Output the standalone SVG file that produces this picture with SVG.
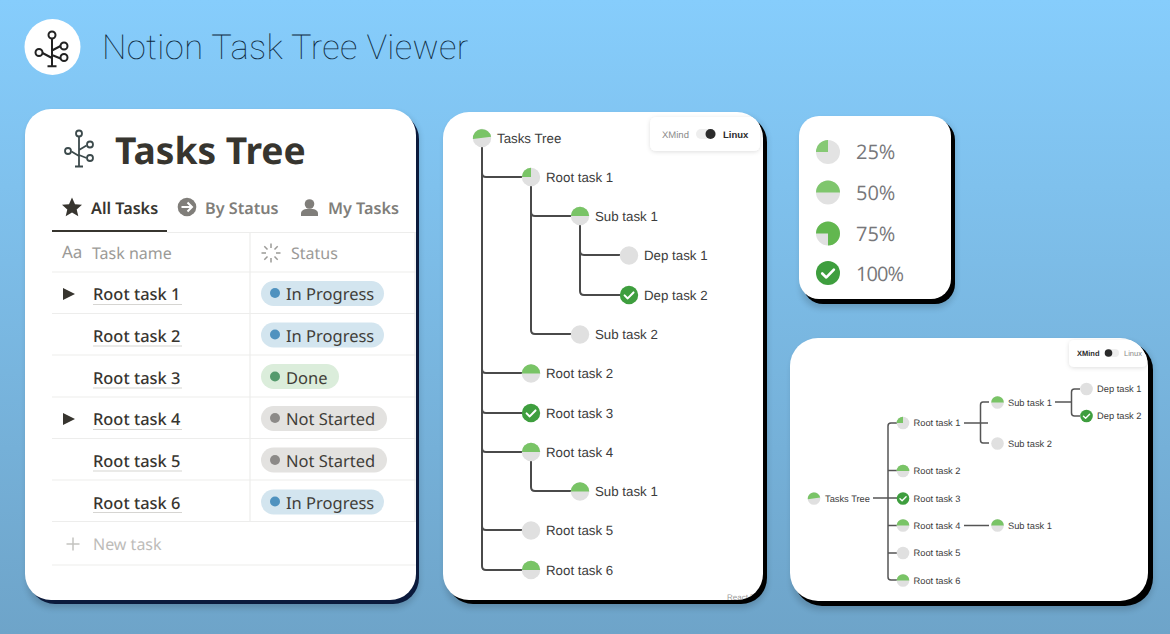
<svg xmlns="http://www.w3.org/2000/svg" width="1170" height="634" viewBox="0 0 1170 634">
<style>
.card{fill:#fff}
.sh1{fill:#0b1a3c}
.sh2{fill:#000}
.rule{stroke:#ededec;stroke-width:1.2;fill:none}
.nt{font-family:"Noto Sans","Open Sans",sans-serif;text-rendering:geometricPrecision}
.tab{font-size:16.200px;font-weight:600;fill:#807e7a}
.hd{font-size:16px;fill:#9b9a97}
.rw{font-size:16.400px;font-weight:500;fill:#37352f}
.rl{stroke:#d6d5d2;stroke-width:1.2}
.st{font-size:16.500px;fill:#3f3d38}
.tr{font-family:"Liberation Sans",Arial,sans-serif;fill:#3c3c3c;text-rendering:geometricPrecision}
.t2{font-size:13.300px}
.t4{font-size:9.300px}
.cn{fill:none;stroke:#4a4a4a;stroke-width:2}
.cn4{fill:none;stroke:#555;stroke-width:1.5}
.lg{font-family:"Open Sans","Noto Sans",sans-serif;font-size:20px;fill:#77777a;text-rendering:geometricPrecision}
.ic{fill:none;stroke:#222;stroke-width:2}
.ic2{fill:none;stroke:#3c4a4c;stroke-width:1.800}
.gr{fill:#e0e0e0}
.gn{fill:#79c466}
.dn{fill:#3e9e3e}
.glow{fill:#000;opacity:.16}
</style>
<defs>
<linearGradient id="bg" x1="0" y1="0" x2="0" y2="1"><stop offset="0" stop-color="#86cdfc"/><stop offset="1" stop-color="#6ea4c9"/></linearGradient>
<filter id="soft" x="-20%" y="-20%" width="140%" height="150%"><feDropShadow dx="0" dy="1" stdDeviation="2" flood-color="#000" flood-opacity="0.13"/></filter>
<filter id="blur" x="-10%" y="-10%" width="120%" height="120%"><feGaussianBlur stdDeviation="3"/></filter>
<clipPath id="clip2"><rect x="443" y="112" width="320" height="488" rx="26"/></clipPath>
<clipPath id="clip4"><rect x="790" y="338" width="358" height="263" rx="28"/></clipPath>
<g id="p0"><circle r="10" class="gr"/></g>
<g id="p25"><circle r="10" class="gr"/><path d="M0 0V-10A10 10 0 0 0-10 0Z" class="gn"/></g>
<g id="p50"><circle r="10" class="gr"/><path d="M-10 0A10 10 0 0 1 10 0Z" class="gn"/></g>
<g id="p55"><circle r="10" class="gr"/><path d="M-9.900 1.200A10 10 0 0 1 9.900-1.400Z" class="gn"/></g>
<g id="p75"><circle r="10" class="gr"/><path d="M0 0H-10A10 10 0 1 1 0 10Z" fill="#62b74f"/></g>
<g id="p100"><circle r="10" class="dn"/><path d="M-4.800 0.400L-1.400 3.700L4.900-2.800" fill="none" stroke="#fff" stroke-width="2.200" stroke-linecap="round" stroke-linejoin="round"/></g>
</defs>
<rect width="1170" height="634" fill="url(#bg)"/>

<g id="header">
<circle cx="52.500" cy="47" r="28" fill="#fff"/>
<g class="ic">
<path d="M52 38.500V66M47.500 66.200H56.500M52 50.500L60.500 46M52 55L60.500 58.500M42.500 53L52 58"/>
<circle cx="52" cy="35" r="3.500"/><circle cx="64" cy="46" r="3.500"/><circle cx="64" cy="57.500" r="3.500"/><circle cx="39" cy="52.500" r="3.500"/>
</g>
<text x="102" y="59" font-family="Roboto,sans-serif" font-weight="100" font-size="34.500" letter-spacing="0.350" fill="#0f2a40" style="text-rendering:geometricPrecision">Notion Task Tree Viewer</text>
</g>

<g id="card-notion">
<rect x="27" y="113" width="392" height="495" rx="26" class="glow" filter="url(#blur)"/>
<rect x="29" y="113" width="390" height="491" rx="26" class="sh1"/>
<rect x="25" y="109" width="391" height="491" rx="26" class="card"/>
<g class="ic2">
<path d="M79 137V166M75 166.500H83M79 150L86.500 145.500M79 155L86.500 158M71.500 151.500L79 156"/>
<circle cx="79" cy="133.500" r="3"/><circle cx="90" cy="144.500" r="3"/><circle cx="90" cy="158" r="3"/><circle cx="68" cy="151" r="3"/>
</g>
<text x="115" y="164" class="nt" font-size="37.200" font-weight="700" fill="#37352f">Tasks Tree</text>
<path d="M72 197.500L75 204.200L82 204.800L76.700 209.400L78.300 216.300L72 212.600L65.700 216.300L67.300 209.400L62 204.800L69 204.200Z" fill="#37352f"/>
<text x="91" y="214" class="nt tab" style="fill:#37352f">All Tasks</text>
<circle cx="187" cy="207" r="9.300" fill="#807e7a"/>
<path d="M181.500 207H191.500M187.500 202.500L192 207L187.500 211.500" fill="none" stroke="#fff" stroke-width="2"/>
<text x="205" y="214" class="nt tab">By Status</text>
<circle cx="309.500" cy="204" r="4.800" fill="#807e7a"/>
<path d="M301 216V213.500C301 210 305 208.800 309.500 208.800S318 210 318 213.500V216Z" fill="#807e7a"/>
<text x="328" y="214" class="nt tab">My Tasks</text>
<rect x="52" y="230" width="115" height="2" fill="#37352f"/>
<path d="M167 232.500H416M52 272H416M52 313.500H416M52 355H416M52 397H416M52 438.500H416M52 480H416M52 521.500H416M52 565H416M250 233V521M415 233V521" class="rule"/>
<text x="62" y="258" class="nt hd" style="font-size:17px">Aa</text>
<text x="92" y="259" class="nt hd">Task name</text>
<path d="M271 243.500V248M271 258V262.500M261.500 253H266M276 253H280.500M264.300 246.300L267.500 249.500M274.500 256.500L277.700 259.700M264.300 259.700L267.500 256.500M274.500 249.500L277.700 246.300" stroke="#9b9a97" stroke-width="1.500" fill="none"/>
<text x="291" y="259" class="nt hd">Status</text>
<path d="M63 288V300L75 294Z" fill="#37352f"/>
<path d="M63 413V425L75 419Z" fill="#37352f"/>
<g id="row-1"><text x="93" y="300" class="nt rw">Root task 1</text><path d="M93 304.500H182" class="rl"/><rect x="261" y="281" width="123" height="25" rx="12.500" fill="#d3e5ef"/><circle cx="275" cy="293" r="5" fill="#4f92bf"/><text x="286" y="300" class="nt st">In Progress</text></g>
<g id="row-2"><text x="93" y="341.500" class="nt rw">Root task 2</text><path d="M93 346H182" class="rl"/><rect x="261" y="322.500" width="123" height="25" rx="12.500" fill="#d3e5ef"/><circle cx="275" cy="334.500" r="5" fill="#4f92bf"/><text x="286" y="341.500" class="nt st">In Progress</text></g>
<g id="row-3"><text x="93" y="383.500" class="nt rw">Root task 3</text><path d="M93 388H182" class="rl"/><rect x="261" y="364" width="78" height="25" rx="12.500" fill="#dbeddb"/><circle cx="275" cy="376.500" r="5" fill="#559a6d"/><text x="286" y="383.500" class="nt st">Done</text></g>
<g id="row-4"><text x="93" y="425" class="nt rw">Root task 4</text><path d="M93 429.500H182" class="rl"/><rect x="261" y="406" width="126" height="25" rx="12.500" fill="#e3e2e0"/><circle cx="275" cy="418" r="5" fill="#8c8a88"/><text x="286" y="425" class="nt st">Not Started</text></g>
<g id="row-5"><text x="93" y="467" class="nt rw">Root task 5</text><path d="M93 471H182" class="rl"/><rect x="261" y="447.500" width="126" height="25" rx="12.500" fill="#e3e2e0"/><circle cx="275" cy="460" r="5" fill="#8c8a88"/><text x="286" y="467" class="nt st">Not Started</text></g>
<g id="row-6"><text x="93" y="508.500" class="nt rw">Root task 6</text><path d="M93 512.500H182" class="rl"/><rect x="261" y="489.500" width="123" height="25" rx="12.500" fill="#d3e5ef"/><circle cx="275" cy="501.500" r="5" fill="#4f92bf"/><text x="286" y="508.500" class="nt st">In Progress</text></g>
<path d="M73 537.500V550.500M66.500 544H79.500" stroke="#c4c3c0" stroke-width="1.500"/>
<text x="93" y="550" class="nt" font-size="16" fill="#bdbcb9">New task</text>
</g>

<g id="card-linux">
<rect x="445" y="116" width="322" height="492" rx="26" class="glow" filter="url(#blur)"/>
<rect x="447" y="116" width="320" height="488" rx="26" class="sh2"/>
<rect x="443" y="112" width="320" height="488" rx="26" class="card"/>
<g id="connectors-linux" class="cn">
<path d="M482 147V566Q482 570 486 570H522"/>
<path d="M482 173Q482 177 486 177H522M482 369Q482 373 486 373H522M482 409Q482 413 486 413H522M482 448Q482 452 486 452H522M482 526Q482 530 486 530H522"/>
<path d="M531 186V330Q531 334 535 334H571M531 212Q531 216 535 216H571"/>
<path d="M580 225V291Q580 295 584 295H620M580 251Q580 255 584 255H620"/>
<path d="M531 461V487Q531 491 535 491H571"/>
</g>
<g id="n2-root"><use href="#p55" transform="translate(482 138) scale(.92)"/><text x="497" y="143" class="tr t2">Tasks Tree</text></g>
<g id="n2-r1"><use href="#p25" transform="translate(531 177) scale(.92)"/><text x="546" y="182" class="tr t2">Root task 1</text></g>
<g id="n2-s1"><use href="#p50" transform="translate(580 216) scale(.92)"/><text x="595" y="221" class="tr t2">Sub task 1</text></g>
<g id="n2-d1"><use href="#p0" transform="translate(629 255.500) scale(.92)"/><text x="644" y="260" class="tr t2">Dep task 1</text></g>
<g id="n2-d2"><use href="#p100" transform="translate(629 295) scale(.92)"/><text x="644" y="300" class="tr t2">Dep task 2</text></g>
<g id="n2-s2"><use href="#p0" transform="translate(580 334.500) scale(.92)"/><text x="595" y="339" class="tr t2">Sub task 2</text></g>
<g id="n2-r2"><use href="#p50" transform="translate(531 373.500) scale(.92)"/><text x="546" y="378" class="tr t2">Root task 2</text></g>
<g id="n2-r3"><use href="#p100" transform="translate(531 413) scale(.92)"/><text x="546" y="418" class="tr t2">Root task 3</text></g>
<g id="n2-r4"><use href="#p50" transform="translate(531 452) scale(.92)"/><text x="546" y="457" class="tr t2">Root task 4</text></g>
<g id="n2-s3"><use href="#p50" transform="translate(580 491.500) scale(.92)"/><text x="595" y="496" class="tr t2">Sub task 1</text></g>
<g id="n2-r5"><use href="#p0" transform="translate(531 530.500) scale(.92)"/><text x="546" y="535" class="tr t2">Root task 5</text></g>
<g id="n2-r6"><use href="#p50" transform="translate(531 570) scale(.92)"/><text x="546" y="575" class="tr t2">Root task 6</text></g>
<g id="toggle-linux" clip-path="url(#clip2)">
<rect x="650" y="117" width="110" height="34" rx="6" fill="#fff" filter="url(#soft)"/>
<text x="662" y="137.500" class="tr" font-size="9.500" style="fill:#8a8a8a">XMind</text>
<rect x="696" y="129" width="20" height="10" rx="5" fill="#eeeeee"/>
<circle cx="710.500" cy="134" r="5" fill="#2b2b2b"/>
<text x="723" y="137.500" class="tr" font-size="9.500" font-weight="700" style="fill:#2b2b2b">Linux</text>
</g>
<g clip-path="url(#clip2)"><text x="727" y="600" class="tr" font-size="8" style="fill:#9a9a9a">React F</text></g>
</g>

<g id="card-legend">
<rect x="801" y="120" width="154" height="188" rx="20" class="glow" filter="url(#blur)"/>
<rect x="803" y="120" width="152" height="184" rx="20" class="sh2"/>
<rect x="799" y="116" width="152" height="183" rx="20" class="card"/>
<g id="lg-25"><use href="#p25" transform="translate(828 152) scale(1.2)" opacity=".9"/><text x="856" y="159" class="lg">25%</text></g>
<g id="lg-50"><use href="#p50" transform="translate(828 192.500) scale(1.2)" opacity=".95"/><text x="856" y="200" class="lg">50%</text></g>
<g id="lg-75"><use href="#p75" transform="translate(828 233.500) scale(1.2)"/><text x="856" y="241" class="lg">75%</text></g>
<g id="lg-100"><use href="#p100" transform="translate(828 273) scale(1.2)"/><text x="856" y="281" class="lg" letter-spacing="-0.900">100%</text></g>
</g>

<g id="card-xmind">
<rect x="792" y="342" width="361" height="268" rx="28" class="glow" filter="url(#blur)"/>
<rect x="794" y="342" width="359" height="264" rx="28" class="sh2"/>
<rect x="790" y="338" width="358" height="263" rx="28" class="card"/>
<g id="connectors-xmind" class="cn4">
<path d="M873 498H897"/>
<path d="M897 423H891Q888 423 888 426V577Q888 580 891 580H897M888 470.500H897M888 525.500H897M888 553H897"/>
<path d="M964 423H988M989 402H983Q980.500 402 980.500 405V440Q980.500 443 983 443H989"/>
<path d="M1055 402H1071M1080 389H1074.500Q1071.500 389 1071.500 392V413Q1071.500 416 1074.500 416H1080"/>
<path d="M964 525.500H989"/>
</g>
<g id="n4-root"><use href="#p55" transform="translate(814 498.500) scale(.63)"/><text x="825" y="501.500" class="tr t4">Tasks Tree</text></g>
<g id="n4-r1"><use href="#p25" transform="translate(903 423) scale(.63)"/><text x="913.500" y="426" class="tr t4">Root task 1</text></g>
<g id="n4-s1"><use href="#p50" transform="translate(997.500 402.500) scale(.63)"/><text x="1008" y="405.500" class="tr t4">Sub task 1</text></g>
<g id="n4-d1"><use href="#p0" transform="translate(1086.500 389) scale(.63)"/><text x="1097" y="392" class="tr t4">Dep task 1</text></g>
<g id="n4-d2"><use href="#p100" transform="translate(1086.500 416) scale(.63)"/><text x="1097" y="419" class="tr t4">Dep task 2</text></g>
<g id="n4-s2"><use href="#p0" transform="translate(997.500 443.500) scale(.63)"/><text x="1008" y="446.500" class="tr t4">Sub task 2</text></g>
<g id="n4-r2"><use href="#p50" transform="translate(903 471) scale(.63)"/><text x="913.500" y="474" class="tr t4">Root task 2</text></g>
<g id="n4-r3"><use href="#p100" transform="translate(903 498.500) scale(.63)"/><text x="913.500" y="501.500" class="tr t4">Root task 3</text></g>
<g id="n4-r4"><use href="#p50" transform="translate(903 525.500) scale(.63)"/><text x="913.500" y="528.500" class="tr t4">Root task 4</text></g>
<g id="n4-s3"><use href="#p50" transform="translate(997.500 525.500) scale(.63)"/><text x="1008" y="528.500" class="tr t4">Sub task 1</text></g>
<g id="n4-r5"><use href="#p0" transform="translate(903 553) scale(.63)"/><text x="913.500" y="556" class="tr t4">Root task 5</text></g>
<g id="n4-r6"><use href="#p50" transform="translate(903 580.500) scale(.63)"/><text x="913.500" y="583.500" class="tr t4">Root task 6</text></g>
<g id="toggle-xmind" clip-path="url(#clip4)">
<rect x="1069" y="340" width="78" height="27" rx="5" fill="#fff" filter="url(#soft)"/>
<text x="1077" y="356" class="tr" font-size="7.500" font-weight="700" style="fill:#2b2b2b">XMind</text>
<rect x="1105" y="349" width="14" height="8" rx="4" fill="#eeeeee"/>
<circle cx="1108.500" cy="353" r="3.800" fill="#2b2b2b"/>
<text x="1124" y="356" class="tr" font-size="7.500" style="fill:#8a8a8a">Linux</text>
</g>
</g>
</svg>
